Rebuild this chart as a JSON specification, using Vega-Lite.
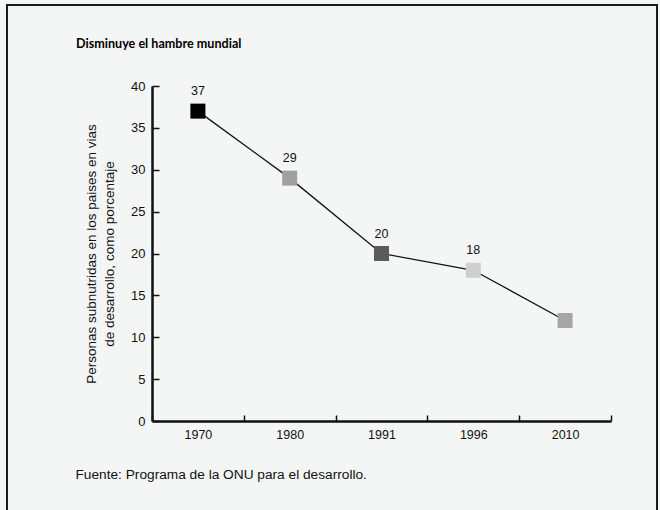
{
  "$schema": "https://vega.github.io/schema/vega-lite/v6.json",
  "width": 650,
  "height": 510,
  "autosize": {"type": "none"},
  "padding": {"left": 7, "top": 5, "right": 3, "bottom": 0},
  "background": "#f4f6f6",
  "config": {
    "view": {"stroke": "#1a1a1a", "strokeWidth": 2, "fill": "#f4f6f6"},
    "font": "Liberation Sans",
    "axis": {"grid": false}
  },
  "title": {
    "text": "Disminuye el hambre mundial",
    "anchor": "start",
    "frame": "group",
    "dx": 69,
    "offset": -46,
    "fontSize": 12.6,
    "fontWeight": "bold",
    "color": "#000000",
    "font": "Lato"
  },
  "data": {
    "values": [
      {"year": "1970", "pct": 37},
      {"year": "1980", "pct": 29},
      {"year": "1991", "pct": 20},
      {"year": "1996", "pct": 18},
      {"year": "2010", "pct": 12}
    ]
  },
  "encoding": {
    "x": {
      "field": "year",
      "type": "ordinal",
      "bandPosition": 0.5,
      "scale": {"type": "band", "range": [145, 604], "paddingInner": 0, "paddingOuter": 0},
      "axis": {
        "title": "Fuente: Programa de la ONU para el desarrollo.",
        "offset": -94,
        "tickBand": "extent",
        "tickSize": -6,
        "tickWidth": 1.5,
        "tickColor": "#111111",
        "domainColor": "#111111",
        "domainWidth": 2.5,
        "labelAngle": 0,
        "labelPadding": 13,
        "labelFontSize": 12.5,
        "labelColor": "#111111",
        "titleX": 68,
        "titleY": 57,
        "titleAlign": "left",
        "titleBaseline": "alphabetic",
        "titleFontWeight": "normal",
        "titleFontSize": 13.7,
        "titleColor": "#111111"
      }
    },
    "y": {
      "field": "pct",
      "type": "quantitative",
      "scale": {"domain": [0, 40], "range": [416, 81], "nice": false},
      "axis": {
        "offset": -145,
        "values": [0, 5, 10, 15, 20, 25, 30, 35, 40],
        "tickSize": -7,
        "tickWidth": 1.5,
        "tickColor": "#111111",
        "domainColor": "#111111",
        "domainWidth": 2.5,
        "labelPadding": 14,
        "labelFontSize": 13,
        "labelColor": "#111111",
        "title": ["Personas subnutridas en los paises en vias", "de desarrollo, como porcentaje"],
        "titleFontWeight": "normal",
        "titleFontSize": 13.5,
        "titleLineHeight": 18,
        "titlePadding": 14,
        "titleColor": "#111111"
      }
    }
  },
  "layer": [
    {"mark": {"type": "line", "color": "#111111", "strokeWidth": 1.3}},
    {
      "mark": {"type": "point", "shape": "square", "filled": true, "size": 225, "opacity": 1},
      "encoding": {
        "color": {
          "field": "year",
          "type": "nominal",
          "scale": {"range": ["#000000", "#a0a0a0", "#5b5b5b", "#cfcfcf", "#a6a6a6"]},
          "legend": null
        }
      }
    },
    {
      "transform": [{"filter": "datum.year != '2010'"}],
      "mark": {"type": "text", "baseline": "alphabetic", "dy": -16, "fontSize": 12.5, "color": "#111111"},
      "encoding": {"text": {"field": "pct", "type": "quantitative"}}
    }
  ]
}
